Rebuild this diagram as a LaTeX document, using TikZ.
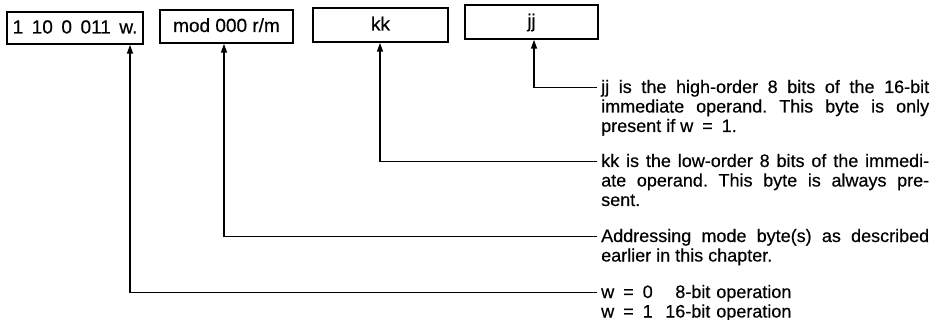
\documentclass[tikz,border=0pt]{standalone}
\usepackage{fontspec}
\setmainfont[FakeBold=0.4]{Liberation Sans}
\usetikzlibrary{arrows.meta}
\tolerance=9999
\hbadness=10000
\frenchspacing
\begin{document}
\begin{tikzpicture}[x=1pt,y=-1pt,
  bytebox/.style={draw,line width=1.5pt,inner sep=0pt,text height=12pt,text depth=1pt,
    font=\fontsize{19}{22}\selectfont},
  note/.style={anchor=base west,inner sep=0pt,text width=328pt,align=justify,
    font=\fontsize{18}{19.5}\selectfont},
  lead/.style={line width=1.5pt,-{Triangle[length=9pt,width=6pt]}}]
\useasboundingbox (0,0) rectangle (933,320);
% byte boxes
\node[bytebox,minimum width=136pt,minimum height=32pt] (b1) at (75,28)
  {1\hspace{.45em}10\hspace{.45em}0\hspace{.45em}011\hspace{.45em}w.};
\node[bytebox,minimum width=133pt,minimum height=33pt] (b2) at (226.5,26.5) {mod 000 r/m};
\node[bytebox,minimum width=135pt,minimum height=34pt] (b3) at (380.5,25) {kk};
\node[bytebox,minimum width=133pt,minimum height=34pt] (b4) at (531.5,22) {jj};
% notes
\node[note] (t4) at (601,93)
  {jj is the high-order 8 bits of the 16-bit\linebreak
   immediate operand. This byte is only\linebreak
   present if w\hspace{.5em}=\hspace{.5em}1.};
\node[note] (t3) at (601,167)
  {kk is the low-order 8 bits of the immedi-\linebreak
   ate operand. This byte is always pre-\linebreak
   sent.};
\node[note] (t2) at (601,242)
  {Addressing mode byte(s) as described\linebreak
   earlier in this chapter.};
\node[note,align=left] (t1) at (601,298)
  {w\hspace{.5em}=\hspace{.5em}0\hspace{.7em}\phantom{1}8-bit operation\\
   w\hspace{.5em}=\hspace{.5em}1\hspace{.7em}16-bit operation};
% leaders
\draw[lead] ([shift={(-4pt,5.5pt)}]t4.base west) -| ([xshift=2.5pt]b4.south);
\draw[lead] ([shift={(-4pt,5.5pt)}]t3.base west) -| ([xshift=-0.5pt]b3.south);
\draw[lead] ([shift={(-4pt,5.5pt)}]t2.base west) -| ([xshift=-2.5pt]b2.south);
\draw[lead] ([shift={(-4pt,5.5pt)}]t1.base west) -| ([xshift=55pt]b1.south);
\end{tikzpicture}
\end{document}
